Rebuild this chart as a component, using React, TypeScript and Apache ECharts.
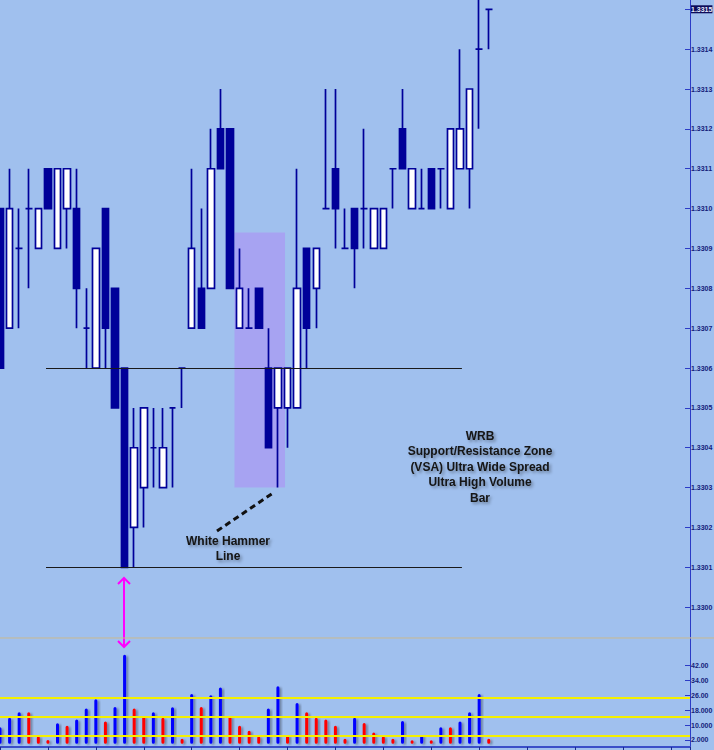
import React, { useEffect, useRef } from "react";
import * as echarts from "echarts";

// OHLC: [open, close, low, high]
const opens = [1.331, 1.3307, 1.3309, 1.331, 1.3309, 1.3311, 1.3309, 1.331, 1.331, 1.3307, 1.3306, 1.331, 1.3308, 1.3306, 1.3302, 1.3303, 1.3304, 1.3303, 1.3305, 1.3306, 1.3307, 1.3308, 1.3308, 1.3312, 1.3312, 1.3307, 1.3307, 1.3308, 1.3306, 1.3305, 1.3305, 1.3305, 1.3309, 1.3308, 1.331, 1.3311, 1.3309, 1.331, 1.331, 1.3309, 1.3309, 1.3311, 1.3312, 1.331, 1.331, 1.3311, 1.3311, 1.331, 1.3311, 1.3311, 1.3314, 1.3315];
const closes = [1.3306, 1.331, 1.3309, 1.331, 1.331, 1.331, 1.3311, 1.3311, 1.3308, 1.3307, 1.3309, 1.3307, 1.3305, 1.3301, 1.3304, 1.3305, 1.3304, 1.3304, 1.3305, 1.3306, 1.3309, 1.3307, 1.3311, 1.3311, 1.3308, 1.3308, 1.3307, 1.3307, 1.3304, 1.3306, 1.3306, 1.3308, 1.3307, 1.3309, 1.331, 1.331, 1.3309, 1.3309, 1.331, 1.331, 1.331, 1.3311, 1.3311, 1.3311, 1.331, 1.331, 1.3311, 1.3312, 1.3312, 1.3313, 1.3314, 1.3315];
const lows = [1.3306, 1.3307, 1.3307, 1.3308, 1.3309, 1.331, 1.3309, 1.3309, 1.3307, 1.3306, 1.3306, 1.3306, 1.3305, 1.3301, 1.3301, 1.3302, 1.3303, 1.3303, 1.3303, 1.3305, 1.3307, 1.3307, 1.3308, 1.3311, 1.3308, 1.3307, 1.3307, 1.3307, 1.3304, 1.3303, 1.3304, 1.3305, 1.3306, 1.3307, 1.331, 1.3309, 1.3309, 1.3308, 1.3309, 1.3309, 1.3309, 1.331, 1.3311, 1.331, 1.331, 1.331, 1.331, 1.331, 1.3311, 1.331, 1.3312, 1.3314];
const highs = [1.331, 1.3311, 1.331, 1.3311, 1.331, 1.3311, 1.3311, 1.3311, 1.3311, 1.3308, 1.3309, 1.331, 1.3308, 1.3306, 1.3305, 1.3305, 1.3305, 1.3305, 1.3305, 1.3306, 1.3311, 1.331, 1.3312, 1.3313, 1.3312, 1.3309, 1.3308, 1.3308, 1.3307, 1.3306, 1.3306, 1.3311, 1.3309, 1.3309, 1.3313, 1.3313, 1.331, 1.331, 1.3312, 1.331, 1.331, 1.3311, 1.3313, 1.3311, 1.3311, 1.3311, 1.3311, 1.3312, 1.3314, 1.3313, 1.33153, 1.3315];

const volumes = [8.8, 14.0, 16.9, 16.9, 4.0, 2.0, 11.0, 9.7, 13.1, 18.9, 23.9, 11.9, 19.8, 47.9, 18.9, 14.8, 16.9, 14.0, 19.6, 2.7, 26.8, 19.8, 26.1, 30.2, 14.8, 9.7, 7.0, 4.0, 18.9, 30.9, 4.7, 21.9, 16.9, 14.0, 13.1, 9.7, 2.7, 14.0, 11.2, 6.1, 4.0, 2.7, 12.2, 1.8, 4.7, 1.8, 8.8, 8.8, 11.9, 16.9, 26.8, 2.7];
const volumeColors = ["b", "b", "b", "r", "r", "r", "b", "r", "b", "b", "b", "r", "b", "b", "r", "r", "b", "r", "b", "r", "b", "r", "b", "b", "r", "r", "r", "r", "b", "b", "r", "b", "r", "r", "r", "r", "r", "b", "r", "r", "r", "r", "b", "r", "b", "r", "b", "r", "b", "b", "b", "r"];

const priceTicks = [1.33, 1.3301, 1.3302, 1.3303, 1.3304, 1.3305, 1.3306, 1.3307, 1.3308, 1.3309, 1.331, 1.3311, 1.3312, 1.3313, 1.3314, 1.3315];
const currentPrice = "1.3315";
const volumeTicks = [2, 10, 18, 26, 34, 42];
const volumeTickLabels = ["2.000", "10.000", "18.000", "26.00", "34.00", "42.00"];
const volumeAverages = [24.8, 14.4, 4.3];

const supportResistance = [1.3306, 1.3301];
const zoneX = [4.8, 48.2];
const wrbBox = { x0: 24.47, x1: 29.74, top: 1.33094, bottom: 1.3303 };

const NAVY = "#000099";
const AXIS = "#2b3bc6";
const LABEL_FONT = "'Liberation Sans', Arial, sans-serif";

export default function App() {
  const ref = useRef<HTMLDivElement>(null);
  useEffect(() => {
    if (!ref.current) return;
    const chart = echarts.init(ref.current, null, { renderer: "svg" });
    const candleData = opens.map((o, i) => [i, o, closes[i], lows[i], highs[i]]);
    const volData = volumes.map((v, i) => ({
      value: [i, v],
      itemStyle: { color: volumeColors[i] === "b" ? "#0000ff" : "#ff0000" },
    }));
    const textShadow = { textShadowColor: "rgba(0,0,0,0.35)", textShadowBlur: 3, textShadowOffsetX: 2, textShadowOffsetY: 2 };
    const labelBase = { margin: 1, color: "#14207a", fontSize: 7, fontWeight: "bold", fontFamily: LABEL_FONT };
    chart.setOption({
      animation: false,
      backgroundColor: "#a0c0ee",
      grid: [
        { left: 0, right: 24, top: 0, height: 637, outerBoundsMode: "none", containLabel: false },
        { left: 0, right: 24, top: 638, height: 109, outerBoundsMode: "none", containLabel: false },
      ],
      xAxis: [
        { type: "value", gridIndex: 0, min: 0, max: 72, show: false, splitLine: { show: false } },
        {
          type: "value", gridIndex: 1, min: 0, max: 72, interval: 5, position: "bottom",
          axisLine: { show: true, onZero: false, lineStyle: { color: "#3a4ec8", width: 2 } },
          axisTick: { show: true, length: 3, lineStyle: { color: "#1a2a90" } },
          axisLabel: { show: false },
          splitLine: { show: false },
        },
      ],
      yAxis: [
        {
          type: "value", gridIndex: 0, position: "right",
          min: 1.3299252, max: 1.3315233,
          axisLine: { show: true, onZero: false, lineStyle: { color: AXIS, width: 1 } },
          axisTick: { show: true, inside: true, length: 5, customValues: priceTicks, lineStyle: { color: AXIS } },
          splitLine: { show: false },
          axisLabel: {
            ...labelBase,
            customValues: priceTicks,
            formatter: (v: number) => {
              const s = v.toFixed(4);
              return s === currentPrice ? "{hl|" + s + "}" : s;
            },
            rich: {
              hl: { backgroundColor: "#0c0c5a", color: "#e8ecff", fontSize: 7, fontWeight: "bold", fontFamily: LABEL_FONT, padding: [1, 0, 0, 0] },
            },
          },
        },
        {
          type: "value", gridIndex: 1, position: "right",
          min: -1.77, max: 56.91,
          axisLine: { show: true, onZero: false, lineStyle: { color: AXIS, width: 1 } },
          axisTick: { show: true, inside: true, length: 5, customValues: volumeTicks, lineStyle: { color: AXIS } },
          splitLine: { show: false },
          axisLabel: {
            ...labelBase,
            customValues: volumeTicks,
            formatter: (v: number) => {
              const k = volumeTicks.indexOf(Math.round(v));
              return k >= 0 ? volumeTickLabels[k] : "";
            },
          },
        },
      ],
      series: [
        {
          type: "candlestick",
          xAxisIndex: 0,
          yAxisIndex: 0,
          data: candleData,
          encode: { x: 0, y: [1, 2, 3, 4] },
          barWidth: 7,
          clip: true,
          itemStyle: {
            color: "#ffffff",
            color0: NAVY,
            borderColor: NAVY,
            borderColor0: NAVY,
            borderColorDoji: NAVY,
            borderWidth: 1.7,
          },
          markArea: {
            silent: true,
            itemStyle: { color: "#a7a3f2" },
            data: [[{ coord: [wrbBox.x0, wrbBox.top] }, { coord: [wrbBox.x1, wrbBox.bottom] }]],
          },
          markLine: {
            silent: true,
            symbol: ["none", "none"],
            label: { show: false },
            lineStyle: { color: "#1a1a1a", width: 1.2, type: "solid" },
            data: supportResistance.map((p) => [{ coord: [zoneX[0], p] }, { coord: [zoneX[1], p] }]),
          },
        },
        {
          type: "bar",
          xAxisIndex: 1,
          yAxisIndex: 1,
          data: volData,
          barWidth: 3,
          itemStyle: { borderRadius: 1.5, shadowColor: "rgba(0,0,0,0.35)", shadowOffsetX: 2, shadowOffsetY: 1, shadowBlur: 2 },
          markLine: {
            silent: true,
            symbol: ["none", "none"],
            label: { show: false },
            lineStyle: { color: "#f4f000", width: 2, type: "solid" },
            data: volumeAverages.map((v) => ({ yAxis: v })),
          },
        },
      ],
      graphic: [
        { type: "line", shape: { x1: 0, y1: 638, x2: 714, y2: 638 }, style: { stroke: "#c9b98f", lineWidth: 1 }, z: 10 },
        {
          type: "text", x: 480, y: 428,
          style: {
            text: "WRB\nSupport/Resistance Zone\n(VSA) Ultra Wide Spread\nUltra High Volume\nBar",
            font: "bold 12px 'Liberation Sans', Arial, sans-serif",
            fill: "#141414", align: "center", verticalAlign: "top", lineHeight: 15.5,
            ...textShadow,
          },
          z: 20,
        },
        {
          type: "text", x: 228, y: 534,
          style: {
            text: "White Hammer\nLine",
            font: "bold 12px 'Liberation Sans', Arial, sans-serif",
            fill: "#141414", align: "center", verticalAlign: "top", lineHeight: 14.5,
            ...textShadow,
          },
          z: 20,
        },
        {
          type: "line", shape: { x1: 217, y1: 531, x2: 273, y2: 493 },
          style: { stroke: "#111111", lineWidth: 3, lineDash: [6, 4] },
          z: 20,
        },
        {
          type: "group", z: 20,
          children: [
            { type: "line", shape: { x1: 124, y1: 578, x2: 124, y2: 647 }, style: { stroke: "#ff00ff", lineWidth: 2 } },
            { type: "polyline", shape: { points: [[118, 584], [124, 578], [130, 584]] }, style: { stroke: "#ff00ff", lineWidth: 2, fill: null } },
            { type: "polyline", shape: { points: [[118, 641], [124, 647], [130, 641]] }, style: { stroke: "#ff00ff", lineWidth: 2, fill: null } },
          ],
        },
      ],
    });
    return () => chart.dispose();
  }, []);
  return <div ref={ref} style={{ position: "fixed", left: 0, top: 0, width: 714, height: 750 }} />;
}
